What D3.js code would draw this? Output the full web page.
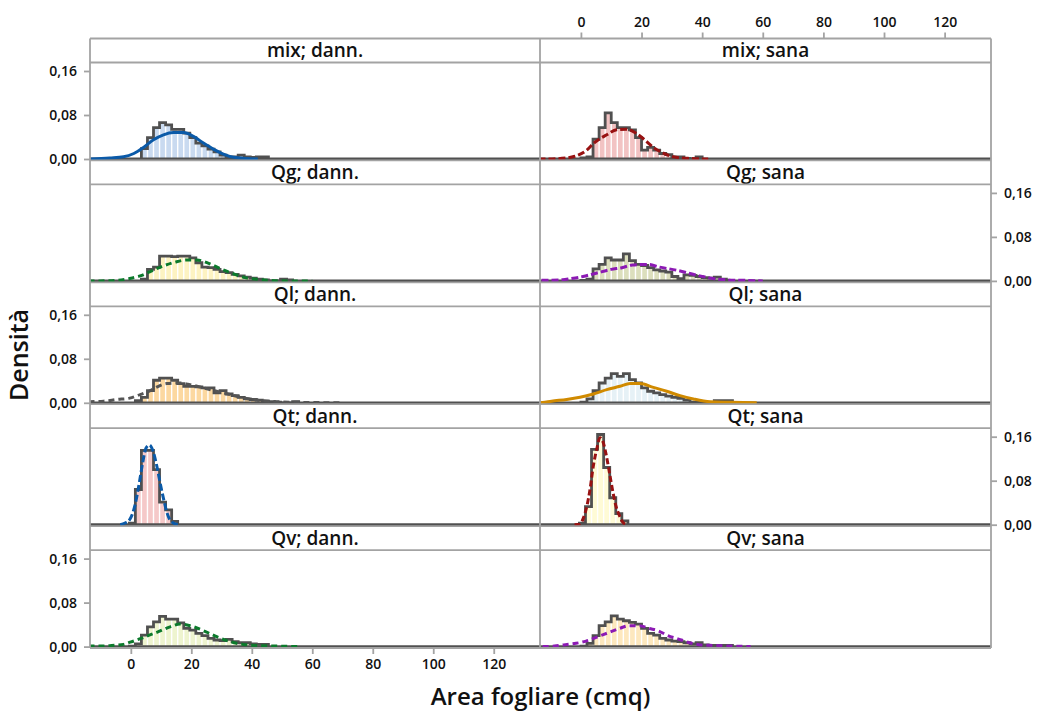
<!DOCTYPE html>
<html>
<head>
<meta charset="utf-8">
<script src="https://cdn.jsdelivr.net/npm/d3@7"></script>
<style>
  body { margin: 0; background: #fff; }
  svg text { font-family: "Open Sans", sans-serif; font-weight: 600; fill: #111; }
</style>
</head>
<body>
<div id="chart"></div>
<script>
// panel titles, in reading order (row by row, left then right)
const panelNames = ["mix; dann.", "mix; sana", "Qg; dann.", "Qg; sana", "Ql; dann.",
  "Ql; sana", "Qt; dann.", "Qt; sana", "Qv; dann.", "Qv; sana"];

const xTicks = [0, 20, 40, 60, 80, 100, 120];
const yTicks = [0, 0.08, 0.16];
const binWidth = 2;

// lower edge of the first bin of each panel
const binStarts = [3.5, 0, 3.5, 0, 1.5, 0, -0.5, -0.5, -0.5, 0];

// histogram densities, one value per bin
const mixDannBins = [0.019, 0.039, 0.057, 0.066, 0.062, 0.054, 0.054, 0.047, 0.039, 0.029, 0.024,
  0.018, 0.013, 0.007, 0.004, 0.004, 0.007, 0.004, 0.003, 0.004, 0.004];
const mixSanaBins = [0.002, 0.004, 0.036, 0.057, 0.084, 0.066, 0.057, 0.057, 0.053, 0.039, 0.016,
  0.021, 0.016, 0.010, 0.008, 0.004, 0.004, 0.001, 0, 0.004];
const qgDannBins = [0.003, 0.021, 0.025, 0.045, 0.045, 0.044, 0.045, 0.045, 0.042, 0.033, 0.025,
  0.024, 0.021, 0.017, 0.015, 0.012, 0.009, 0.007, 0.005, 0.003, 0.002, 0, 0, 0.003, 0.002];
const qgSanaBins = [0.001, 0.003, 0.022, 0.030, 0.042, 0.038, 0.038, 0.049, 0.037, 0.030, 0.028,
  0.024, 0.020, 0.018, 0.016, 0.008, 0.004, 0.011, 0.010, 0.008, 0.006, 0.005, 0.007, 0.003, 0.001];
const qlDannBins = [0.004, 0.010, 0.022, 0.041, 0.045, 0.045, 0.041, 0.035, 0.030, 0.030, 0.029,
  0.027, 0.027, 0.018, 0.022, 0.016, 0.013, 0.010, 0.007, 0.006, 0.005, 0.003, 0.002, 0.001, 0, 0, 0.002];
const qlSanaBins = [0.001, 0.007, 0.022, 0.036, 0.045, 0.053, 0.048, 0.053, 0.042, 0.036, 0.027,
  0.021, 0.018, 0.015, 0.012, 0.010, 0.008, 0.005, 0.001, 0.001, 0, 0, 0.004, 0.004, 0.004];
const qtDannBins = [0.003, 0.064, 0.135, 0.135, 0.100, 0.041, 0.027, 0.006];
const qtSanaBins = [0.003, 0.033, 0.137, 0.164, 0.104, 0.049, 0.020, 0.007];
const qvDannBins = [0.001, 0.005, 0.021, 0.036, 0.045, 0.055, 0.050, 0.050, 0.043, 0.033, 0.030,
  0.024, 0.020, 0.015, 0.012, 0.011, 0.013, 0.009, 0.007, 0.007, 0.005, 0.004, 0.004];
const qvSanaBins = [0.001, 0.006, 0.020, 0.038, 0.045, 0.056, 0.050, 0.047, 0.044, 0.041, 0.033,
  0.024, 0.021, 0.015, 0.012, 0.010, 0.009, 0.007, 0.005, 0.007, 0.003, 0.002, 0.002, 0.002, 0.002];

// fitted density curves, [area, density]
const mixDannFit = [[-14, 0], [-7, 0.002], [-2.4, 0.004], [1, 0.010], [4.2, 0.021], [7.5, 0.035],
  [10.8, 0.044], [14.1, 0.048], [17.4, 0.048], [20.7, 0.041], [24, 0.029], [27.3, 0.018],
  [30.6, 0.009], [34, 0.003], [38, 0.001], [42, 0]];
const mixSanaFit = [[-14, 0], [-11, 0], [-4.7, 0.002], [-2, 0.005], [1.9, 0.016], [4.1, 0.028],
  [8.5, 0.044], [11.8, 0.053], [15.1, 0.054], [18.4, 0.046], [21, 0.035], [23.9, 0.021],
  [26.7, 0.012], [30.5, 0.004], [36, 0.001], [42, 0]];
const qgDannFit = [[-14, 0], [-10, 0], [-4.6, 0.001], [-0.8, 0.004], [3.1, 0.009], [6.4, 0.017],
  [10.2, 0.026], [14.6, 0.034], [18.5, 0.038], [21.8, 0.038], [25.7, 0.032], [30.1, 0.021],
  [33.9, 0.013], [37.8, 0.006], [41.6, 0.003], [46, 0.001], [52, 0], [60, 0]];
const qgSanaFit = [[-13, 0.001], [-6, 0.002], [-3.5, 0.004], [0.7, 0.008], [5, 0.014], [10, 0.021],
  [13.5, 0.024], [17, 0.029], [22, 0.030], [26, 0.025], [32, 0.019], [37, 0.012], [41, 0.007],
  [44, 0.004], [48, 0.002], [54, 0.001], [60, 0]];
const qlDannFit = [[-14, 0.002], [-9, 0.003], [-4.6, 0.006], [-0.4, 0.0085], [3.1, 0.015],
  [6.4, 0.022], [9.1, 0.030], [11.9, 0.035], [16.3, 0.036], [19.6, 0.033], [24, 0.027],
  [28.4, 0.021], [32.8, 0.015], [37.2, 0.009], [41.6, 0.005], [48.2, 0.002], [60, 0.0005], [70, 0]];
const qlSanaFit = [[-14, 0], [-12.6, 0.0006], [-9.7, 0.003], [-4.7, 0.006], [-0.3, 0.010],
  [4.1, 0.016], [8.5, 0.024], [12.9, 0.030], [16.2, 0.035], [19.5, 0.035], [23.9, 0.028],
  [28.3, 0.021], [32.7, 0.013], [37.1, 0.007], [42.6, 0.002], [49.2, 0.001], [58, 0]];
const qtDannFit = [[-3.5, 0], [-1.9, 0.003], [-0.3, 0.010], [1.4, 0.036], [2.8, 0.076], [3.9, 0.112],
  [5, 0.139], [6.1, 0.145], [7.4, 0.133], [8.5, 0.109], [9.8, 0.073], [10.9, 0.045], [12, 0.021],
  [12.9, 0.009], [14.5, 0.002], [16, 0]];
const qtSanaFit = [[-2.1, 0], [-0.3, 0.001], [0.8, 0.012], [2.1, 0.037], [3, 0.064], [4.1, 0.107],
  [5.2, 0.137], [6.3, 0.158], [7.2, 0.152], [8.3, 0.128], [9.4, 0.095], [10.5, 0.061], [11.5, 0.035],
  [12.6, 0.018], [13.9, 0.004], [15.2, 0]];
const qvDannFit = [[-14, 0.001], [-9.6, 0.001], [-6.3, 0.002], [-2.4, 0.004], [-0.2, 0.008],
  [2, 0.012], [4.8, 0.018], [8.6, 0.026], [13, 0.036], [16.3, 0.041], [19.6, 0.038], [24, 0.029],
  [28.4, 0.018], [32.8, 0.009], [37.2, 0.004], [41.6, 0.002], [48.2, 0.001], [56, 0]];
const qvSanaFit = [[-12.6, 0], [-8.7, 0.001], [-5.7, 0.003], [-1.6, 0.006], [1.7, 0.010],
  [5.6, 0.018], [8.9, 0.025], [12.7, 0.033], [16, 0.038], [19.3, 0.038], [22.6, 0.033],
  [25.4, 0.029], [28.7, 0.020], [32, 0.014], [35.3, 0.008], [39.7, 0.003], [44.1, 0.002],
  [49.6, 0.001], [56, 0]];

const allBins = [mixDannBins, mixSanaBins, qgDannBins, qgSanaBins, qlDannBins,
  qlSanaBins, qtDannBins, qtSanaBins, qvDannBins, qvSanaBins];
const allFits = [mixDannFit, mixSanaFit, qgDannFit, qgSanaFit, qlDannFit,
  qlSanaFit, qtDannFit, qtSanaFit, qvDannFit, qvSanaFit];

// styling per panel
const barFills = ["#c9daf0", "#f2c3c3", "#fdf3c2", "#dcdfbd", "#fcd8a0",
  "#e6f1f6", "#f5c9c9", "#fffbd6", "#eef4cf", "#fde8be"];
const fitColors = ["#0b5aa8", "#981212", "#0c7a2c", "#8c1ab4", "#555555",
  "#d08a00", "#0b5aa8", "#981212", "#0c7a2c", "#8c1ab4"];
const fitDashes = [null, "7,3", "6,4", "7,3", "6,4", null, "7,3", "6,3", "6,4", "6,4"];

const width = 1043, height = 717;
const colEdges = [[90, 540], [540, 991]];
const firstTop = 38.5, rowPitch = 121.9, stripH = 24;
const gridColor = "#a3a3a3", outline = "#505050";

const fmt = d3.formatLocale({ decimal: ",", thousands: ".", grouping: [3], currency: ["", "€"] }).format(".2f");

const svg = d3.select("#chart").append("svg")
  .attr("width", width)
  .attr("height", height);

const xScales = colEdges.map(e => d3.scaleLinear().domain([-13.5, 135.3]).range(e));
const rowTop = r => firstTop + r * rowPitch;
const yScales = d3.range(5).map(r => {
  const base = rowTop(r) + stripH + 96.5;
  return d3.scaleLinear().domain([0, 0.16]).range([base, base - 88]);
});

const defs = svg.append("defs");

panelNames.forEach((name, i) => {
  const row = Math.floor(i / 2), col = i % 2;
  const x = xScales[col], y = yScales[row];
  const [x0, x1] = colEdges[col];
  const top = rowTop(row) + stripH, bottom = rowTop(row) + rowPitch;

  defs.append("clipPath").attr("id", "clip" + i)
    .append("rect")
    .attr("x", x0).attr("y", top)
    .attr("width", x1 - x0).attr("height", bottom - top);

  const g = svg.append("g").attr("clip-path", `url(#clip${i})`);
  const bins = allBins[i].map((h, k) => ({ lo: binStarts[i] + k * binWidth, h }));

  g.selectAll("rect.bar")
    .data(bins.filter(d => d.h > 0))
    .enter()
    .append("rect")
    .attr("class", "bar")
    .attr("x", d => x(d.lo) + 0.7)
    .attr("width", d => x(d.lo + binWidth) - x(d.lo) - 1.4)
    .attr("y", d => y(d.h))
    .attr("height", d => y(0) - y(d.h))
    .attr("fill", barFills[i]);

  // outline of the histogram
  const pts = [[bins[0].lo, 0]].concat(bins.map(d => [d.lo, d.h]));
  pts.push([bins[bins.length - 1].lo + binWidth, 0]);
  g.append("path")
    .attr("d", d3.line().x(d => x(d[0])).y(d => y(d[1])).curve(d3.curveStepAfter)(pts))
    .attr("fill", "none")
    .attr("stroke", outline)
    .attr("stroke-width", 2.8);

  g.append("line")
    .attr("x1", x0).attr("x2", x1)
    .attr("y1", y(0)).attr("y2", y(0))
    .attr("stroke", outline)
    .attr("stroke-width", 2.8);

  g.append("path")
    .attr("d", d3.line().x(d => x(d[0])).y(d => y(d[1])).curve(d3.curveMonotoneX)(allFits[i]))
    .attr("fill", "none")
    .attr("stroke", fitColors[i])
    .attr("stroke-width", 3)
    .attr("stroke-dasharray", fitDashes[i]);

  // strip title
  svg.append("text")
    .attr("x", (x0 + x1) / 2)
    .attr("y", rowTop(row) + stripH / 2)
    .attr("dy", "0.36em")
    .attr("text-anchor", "middle")
    .style("font-size", "19px")
    .text(name);
});

// grid frame
const frame = svg.append("g").attr("stroke", gridColor).attr("stroke-width", 1.8);
d3.range(5).forEach(r => {
  [rowTop(r), rowTop(r) + stripH].forEach(yy => {
    frame.append("line").attr("x1", 90).attr("x2", 991).attr("y1", yy).attr("y2", yy);
  });
});
const frameBottom = rowTop(4) + rowPitch;
frame.append("line").attr("x1", 90).attr("x2", 991).attr("y1", frameBottom).attr("y2", frameBottom);
[90, 540, 991].forEach(xx => {
  frame.append("line").attr("x1", xx).attr("x2", xx).attr("y1", firstTop).attr("y2", frameBottom);
});

// axes, alternating sides as in the original
function styleAxis(g) {
  g.select(".domain").remove();
  g.selectAll(".tick line").attr("stroke", gridColor).attr("stroke-width", 1.8);
  g.selectAll(".tick text").style("font-size", "14px").attr("fill", "#111");
}

d3.range(5).forEach(r => {
  const axis = r % 2 === 0
    ? d3.axisLeft(yScales[r]).tickSizeOuter(0)
    : d3.axisRight(yScales[r]).tickSizeOuter(0);
  axis.tickValues(yTicks).tickFormat(fmt).tickSize(6).tickPadding(7);
  svg.append("g")
    .attr("transform", `translate(${r % 2 === 0 ? 90 : 991},0)`)
    .call(axis)
    .call(styleAxis);
});

svg.append("g")
  .attr("transform", `translate(0,${frameBottom})`)
  .call(d3.axisBottom(xScales[0]).tickValues(xTicks).tickSize(6).tickPadding(5))
  .call(styleAxis);

svg.append("g")
  .attr("transform", `translate(0,${firstTop})`)
  .call(d3.axisTop(xScales[1]).tickValues(xTicks).tickSize(6).tickPadding(6))
  .call(styleAxis);

// axis titles
svg.append("text")
  .attr("x", 540.5)
  .attr("y", 697)
  .attr("dy", "0.35em")
  .attr("text-anchor", "middle")
  .style("font-size", "24px")
  .text("Area fogliare (cmq)");

svg.append("text")
  .attr("transform", "translate(19,355) rotate(-90)")
  .attr("dy", "0.35em")
  .attr("text-anchor", "middle")
  .style("font-size", "25px")
  .text("Densità");
</script>
</body>
</html>
